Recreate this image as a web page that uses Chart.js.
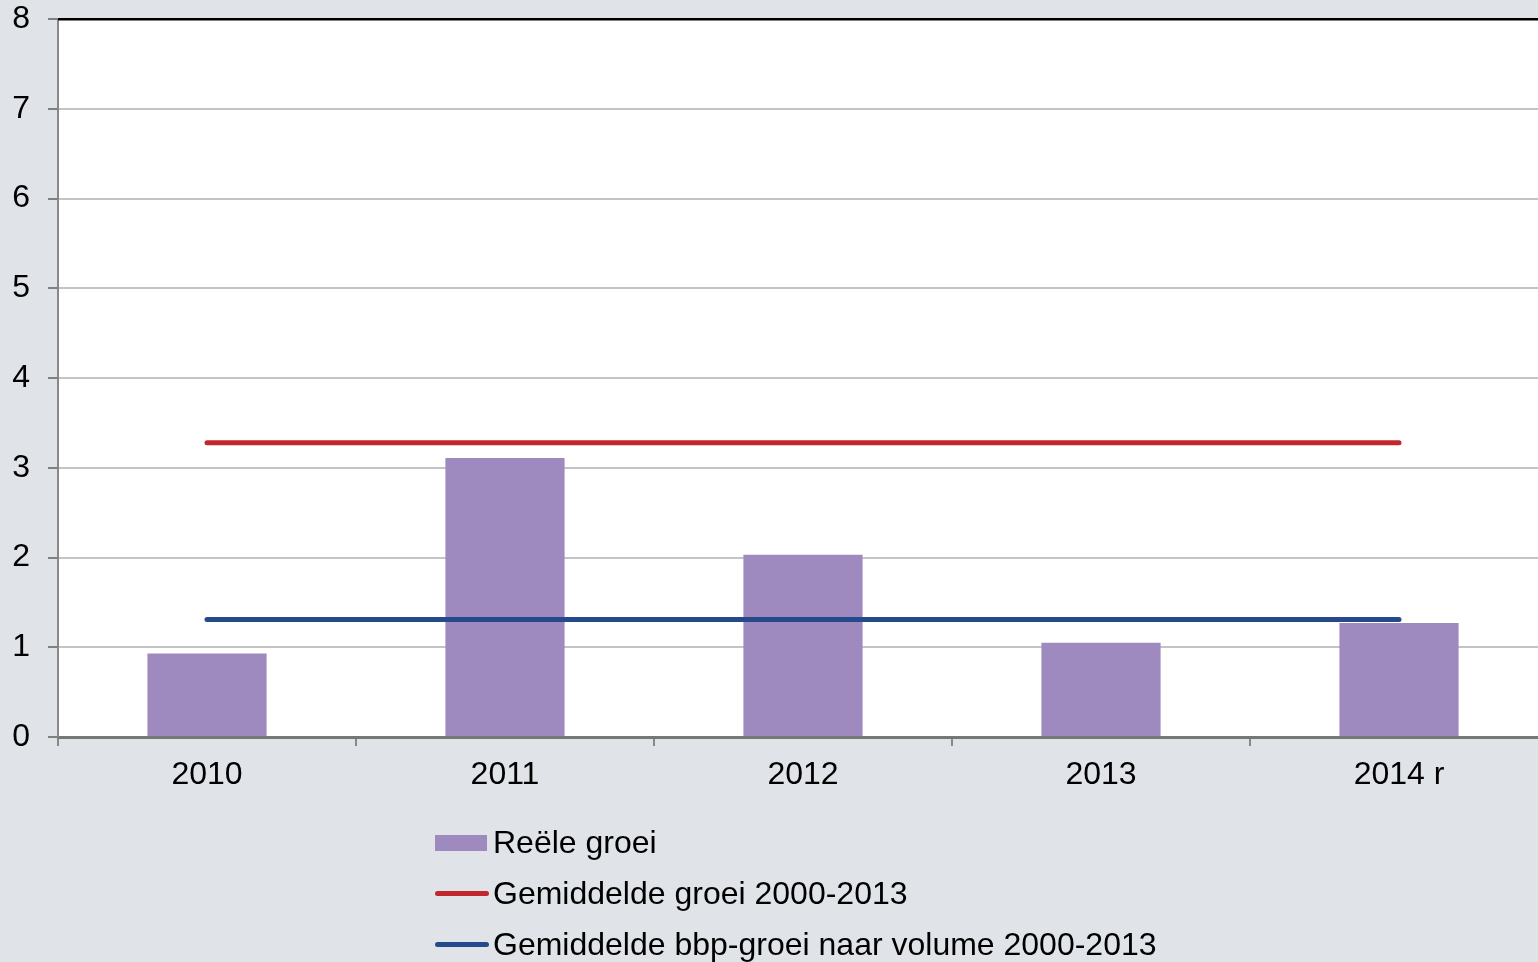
<!DOCTYPE html>
<html>
<head>
<meta charset="utf-8">
<script src="https://cdn.jsdelivr.net/npm/chart.js@4"></script>
<style>
  html, body { margin: 0; padding: 0; background: #e0e3e8; overflow: hidden; }
  #wrap { position: relative; width: 1538px; height: 962px; overflow: hidden; }
  canvas { display: block; }
  #legend { position: absolute; left: 435px; top: 817px; font-family: "Liberation Sans", Arial, sans-serif; font-size: 32px; color: #000; }
  .item { display: flex; align-items: center; height: 51px; }
  .sw { width: 54px; margin-right: 4px; }
  .box { height: 16px; width: 52px; margin-right: 6px; }
  .ln { height: 5px; border-radius: 3px; }
</style>
</head>
<body>
<div id="wrap">
  <canvas id="c" width="1548" height="962"></canvas>
  <div id="legend"></div>
</div>
<script>
const categories = ["2010", "2011", "2012", "2013", "2014 r"];
const reeleGroei = [0.93, 3.11, 2.03, 1.05, 1.27];
const gemGroei = [3.28, 3.28, 3.28, 3.28, 3.28];
const gemBbpGroei = [1.31, 1.31, 1.31, 1.31, 1.31];
const yTicks = [0, 1, 2, 3, 4, 5, 6, 7, 8];
const seriesNames = ["Reële groei", "Gemiddelde groei 2000-2013", "Gemiddelde bbp-groei naar volume 2000-2013"];

const colBar = "#9e8abe";
const colRed = "#c1272d";
const colBlue = "#244a8b";
const fontFam = '"Liberation Sans", Arial, sans-serif';

const bgPlugin = {
  id: "bg",
  beforeDraw(chart) {
    const { ctx, chartArea: a } = chart;
    ctx.save();
    ctx.fillStyle = "#e0e3e8";
    ctx.fillRect(0, 0, chart.width, chart.height);
    ctx.fillStyle = "#ffffff";
    ctx.fillRect(a.left, a.top, a.right - a.left, a.bottom - a.top);
    ctx.restore();
  },
  afterDraw(chart) {
    const { ctx, chartArea: a } = chart;
    const y = chart.scales.y;
    ctx.save();
    // short tick marks just left of the y axis
    ctx.strokeStyle = "#808080";
    ctx.lineWidth = 2;
    y.ticks.forEach(t => {
      const py = Math.round(y.getPixelForValue(t.value));
      ctx.beginPath();
      ctx.moveTo(a.left - 10, py);
      ctx.lineTo(a.left, py);
      ctx.stroke();
    });
    // black top border
    ctx.strokeStyle = "#000";
    ctx.lineWidth = 2.5;
    ctx.beginPath();
    ctx.moveTo(a.left, a.top);
    ctx.lineTo(a.right, a.top);
    ctx.stroke();
    ctx.restore();
  }
};

new Chart(document.getElementById("c"), {
  type: "bar",
  data: {
    labels: categories,
    datasets: [
      { type: "line", label: seriesNames[1], data: gemGroei, borderColor: colRed, backgroundColor: colRed,
        borderWidth: 5, pointRadius: 0, borderCapStyle: "round", order: 0 },
      { type: "line", label: seriesNames[2], data: gemBbpGroei, borderColor: colBlue, backgroundColor: colBlue,
        borderWidth: 5, pointRadius: 0, borderCapStyle: "round", order: 0 },
      { type: "bar", label: seriesNames[0], data: reeleGroei, backgroundColor: colBar,
        barPercentage: 0.4, categoryPercentage: 1.0, order: 1 }
    ]
  },
  options: {
    responsive: false,
    animation: false,
    devicePixelRatio: 1,
    layout: { padding: { top: 19, right: 0, bottom: 0, left: 0 } },
    plugins: { legend: { display: false }, tooltip: { enabled: false } },
    scales: {
      x: {
        offset: true,
        grid: { display: true, drawOnChartArea: false, drawTicks: true, tickLength: 9, color: "#888", lineWidth: 2, offset: true },
        border: { display: true, color: "#777", width: 3 },
        ticks: { color: "#000", font: { family: fontFam, size: 32 }, padding: 10, maxRotation: 0 },
        afterFit(s) { s.height = 225; }
      },
      y: {
        min: 0, max: 8,
        afterBuildTicks(s) { s.ticks = yTicks.map(v => ({ value: v })); },
        grid: { color: "#c4c4c4", lineWidth: 2, tickLength: 28, drawTicks: true, tickColor: "rgba(0,0,0,0)" },
        border: { display: true, color: "#888", width: 2 },
        ticks: { color: "#000", font: { family: fontFam, size: 32 }, padding: 0 },
        afterFit(s) { s.width = 58; }
      }
    }
  },
  plugins: [bgPlugin]
});

const legend = document.getElementById("legend");
const items = [
  { name: seriesNames[0], kind: "box", color: colBar },
  { name: seriesNames[1], kind: "line", color: colRed },
  { name: seriesNames[2], kind: "line", color: colBlue }
];
items.forEach(it => {
  const d = document.createElement("div");
  d.className = "item";
  const s = document.createElement("div");
  if (it.kind === "box") { s.className = "box"; } else { s.className = "sw ln"; }
  s.style.background = it.color;
  const t = document.createElement("span");
  t.textContent = it.name;
  d.appendChild(s); d.appendChild(t);
  legend.appendChild(d);
});
</script>
</body>
</html>
